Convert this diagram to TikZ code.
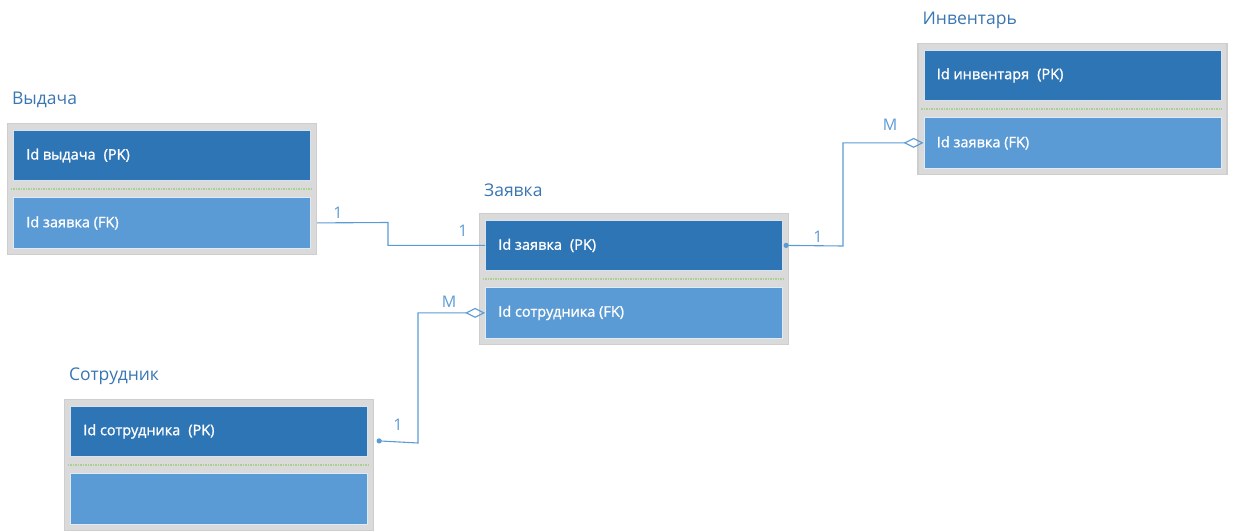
\documentclass[tikz,border=0pt]{standalone}
\usepackage{fontspec}
\setmainfont{Open Sans}
\newfontfamily\fieldfont[FakeBold=1.2]{Open Sans}
\usetikzlibrary{arrows.meta}
\definecolor{pkblue}{RGB}{46,117,182}
\definecolor{fkblue}{RGB}{91,155,213}
\definecolor{framegray}{RGB}{218,218,218}
\definecolor{edgegray}{RGB}{206,206,206}
\definecolor{titleblue}{RGB}{58,118,178}
\definecolor{linkblue}{RGB}{91,155,213}
\definecolor{sepgreen}{RGB}{169,208,142}
\newcommand{\pkgap}{\hspace{0.55em}}
\tikzset{
  frame/.style={draw=edgegray, line width=1.2pt, fill=framegray,
    minimum width=309pt, minimum height=131pt, inner sep=0pt, anchor=north},
  pkbox/.style={draw=white!80!pkblue, line width=0.8pt, fill=pkblue,
    minimum width=297pt, minimum height=50pt, inner sep=0pt, anchor=north},
  fkbox/.style={draw=white!80!fkblue, line width=0.8pt, fill=fkblue,
    minimum width=297pt, minimum height=51pt, inner sep=0pt, anchor=north},
  field/.style={text=white, font=\fieldfont\fontsize{14.5}{17}\selectfont, anchor=west, inner sep=0pt},
  title/.style={text=titleblue, font=\fontsize{17.5}{19}\selectfont, anchor=west, inner sep=0pt},
  sep/.style={sepgreen, line width=1.3pt, dash pattern=on 1.5pt off 1pt},
  link/.style={linkblue, line width=1.1pt},
  card/.style={text=linkblue, font=\fontsize{16}{18}\selectfont, inner sep=0pt},
  many/.style={link, -{Diamond[open, length=20pt, width=10pt, line width=1.1pt]}},
}
% \entity{name}{center x}{top y}{title}{pk text}{fk text}
\newcommand{\entity}[6]{%
  \node[frame] (#1) at (#2,#3) {};
  \node[title] (#1-t) at ([xshift=5pt,yshift=23pt]#1.north west) {#4};
  \node[pkbox] (#1-pk) at ([yshift=-7pt]#1.north) {};
  \node[fkbox] (#1-fk) at ([yshift=-74pt]#1.north) {};
  \draw[sep] ([yshift=-66pt]#1.north west) ++(4pt,0) -- ++(301pt,0);
  \node[field] (#1-pkt) at ([xshift=13pt]#1-pk.west) {#5};
  \node[field] (#1-fkt) at ([xshift=13pt]#1-fk.west) {#6};
}
\begin{document}
\begin{tikzpicture}[x=1pt, y=-1pt]
\useasboundingbox (0,0) rectangle (1233,530);
\begin{scope}
\clip (0,0) rectangle (1233,530);
\entity{vyd}{162}{123}{Выдача}{Id выдача\pkgap(PK)}{Id заявка (FK)}
\entity{zay}{634}{213}{Заявка}{Id заявка\pkgap(PK)}{Id сотрудника (FK)}
\entity{inv}{1072.5}{43}{Инвентарь}{Id инвентаря\pkgap(PK)}{Id заявка (FK)}
\entity{sot}{219}{399}{Сотрудник}{Id сотрудника\pkgap(PK)}{}
\end{scope}

% Выдача -- Заявка (1:1)
\draw[link] (vyd-fk -| vyd.east) -- (388,222.5) |- (zay-pk.west);
\node[card] at (338,213) {1};
\node[card] at (463,231) {1};

% Заявка -- Инвентарь (1:M)
\coordinate (zayout) at ([xshift=-3pt]zay-pk -| zay.east);
\fill[linkblue] (zayout) circle (2.6pt);
\draw[many] (zayout) -- (843,246) |- (inv-fk.west);
\node[card] at (818,237) {1};
\node[card] at (890,125) {M};

% Сотрудник -- Заявка (1:M)
\coordinate (sotout) at ([xshift=5pt,yshift=-9.5pt]sot-pk.east -| sot.east);
\fill[linkblue] (sotout) circle (2.6pt);
\draw[many] (sotout) -- (418,443) |- (zay-fk.west);
\node[card] at (398,425) {1};
\node[card] at (449,302) {M};
\end{tikzpicture}
\end{document}
